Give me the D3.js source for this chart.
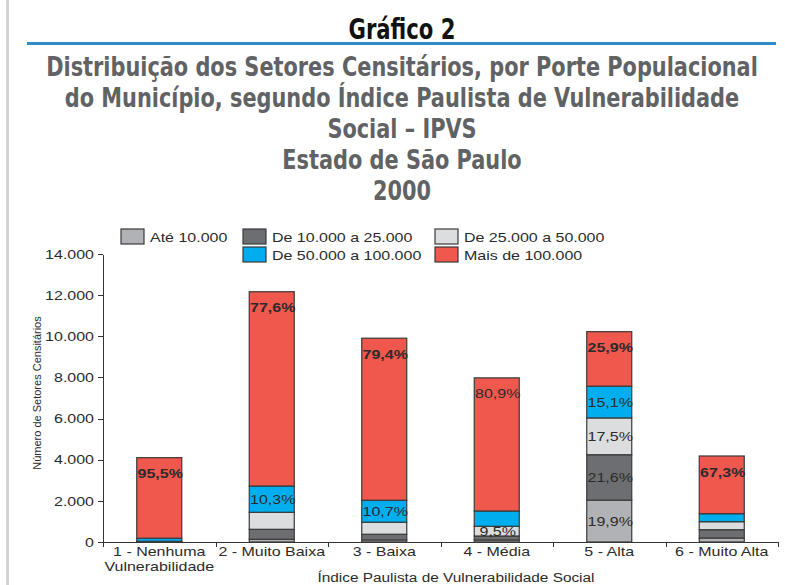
<!DOCTYPE html>
<meta charset="utf-8">
<style>
body { margin: 0; background: #fff; }
.chart text { font-family: "Liberation Sans", Arial, sans-serif; fill: #2b2b2b; }
.chart text.title { font-family: "DejaVu Sans Condensed", "DejaVu Sans", sans-serif; font-stretch: condensed; font-weight: bold; text-anchor: middle; }
.axis path, .axis line { fill: none; stroke: #333; stroke-width: 1; shape-rendering: crispEdges; }
</style>
<body>
<script src="https://cdnjs.cloudflare.com/ajax/libs/d3/7.8.5/d3.min.js"></script>
<script>

// categories (IPVS groups) and their tick labels
var categories = ["1 - Nenhuma Vulnerabilidade", "2 - Muito Baixa", "3 - Baixa", "4 - Média", "5 - Alta", "6 - Muito Alta"];
var tickLabels = [["1 - Nenhuma", "Vulnerabilidade"], ["2 - Muito Baixa"], ["3 - Baixa"], ["4 - Média"], ["5 - Alta"], ["6 - Muito Alta"]];

// series: number of census sectors per municipality size
var seriesNames = ["Até 10.000", "De 10.000 a 25.000", "De 25.000 a 50.000", "De 50.000 a 100.000", "Mais de 100.000"];
var ate10     = [5, 130, 100, 97, 2035, 194];
var de10a25   = [10, 487, 277, 195, 2208, 404];
var de25a50   = [20, 827, 584, 471, 1789, 389];
var de50a100  = [150, 1278, 1069, 744, 1544, 389];
var mais100   = [3915, 9444, 7876, 6472, 2648, 2805];
var seriesValues = [ate10, de10a25, de25a50, de50a100, mais100];

// percentage labels: [category index, series index, text, bold]
var pctLabels = [
    [0, 4, "95,5%", true],
    [1, 4, "77,6%", true], [1, 3, "10,3%", false],
    [2, 4, "79,4%", true], [2, 3, "10,7%", false],
    [3, 4, "80,9%", false], [3, 2, "9,5%", false],
    [4, 4, "25,9%", true], [4, 3, "15,1%", false], [4, 2, "17,5%", false], [4, 1, "21,6%", false], [4, 0, "19,9%", false],
    [5, 4, "67,3%", true]
];

var yTicks = [0, 2000, 4000, 6000, 8000, 10000, 12000, 14000];

var titleLines = ["Distribuição dos Setores Censitários, por Porte Populacional",
                  "do Município, segundo Índice Paulista de Vulnerabilidade",
                  "Social – IPVS", "Estado de São Paulo", "2000"];

var colors = ["#b1b2b5", "#6d6e71", "#dcdddf", "#00aeef", "#f0574d"];

var SX = 1.23; // horizontal stretch of the chart lettering

var W = 785, H = 585;
var svg = d3.select("body").append("svg")
    .attr("width", W).attr("height", H)
    .attr("class", "chart");

// page border on the left
svg.append("rect").attr("x", 6).attr("y", 0).attr("width", 3).attr("height", H).attr("fill", "#d2d2d2");

// heading
var head = svg.append("text").attr("class", "title")
    .style("font-size", "28px").style("fill", "#111")
    .text("Gráfico 2");
var hw = head.node().getComputedTextLength();
head.attr("transform", "translate(402,39) scale(" + (107 / hw) + ",1)");

svg.append("rect").attr("x", 27).attr("y", 42).attr("width", 749).attr("height", 3).attr("fill", "#2f8cc7");

var tl = svg.selectAll(".sub").data(titleLines).enter().append("text")
    .attr("class", "title sub")
    .style("font-size", "27px").style("fill", "#616264")
    .text(function(d) { return d; });
var k = 712 / tl.node().getComputedTextLength();
tl.attr("transform", function(d, i) { return "translate(402," + (76 + i * 31) + ") scale(" + k + ",1)"; });

// scales
var margin = {left: 103, right: 778, top: 254, bottom: 542};
var x = d3.scaleBand().domain(categories).range([margin.left, margin.right]).paddingInner(0.6).paddingOuter(0.3);
var xb = d3.scaleLinear().domain([0, categories.length]).range([margin.left, margin.right]);
var y = d3.scaleLinear().domain([0, 14000]).range([margin.bottom, margin.top]);

var locale = d3.formatLocale({decimal: ",", thousands: ".", grouping: [3], currency: ["", ""]});
var fmt = locale.format(",.0f");

// stacked data
var rows = categories.map(function(c, i) {
    var r = {cat: c};
    seriesNames.forEach(function(s, j) { r[s] = seriesValues[j][i]; });
    return r;
});
var stack = d3.stack().keys(seriesNames)(rows);

svg.append("g").selectAll("g").data(stack).enter().append("g")
    .attr("fill", function(d, i) { return colors[i]; })
    .selectAll("rect").data(function(d) { return d; }).enter().append("rect")
        .attr("x", function(d) { return x(d.data.cat); })
        .attr("y", function(d) { return y(d[1]); })
        .attr("width", x.bandwidth())
        .attr("height", function(d) { return y(d[0]) - y(d[1]); })
        .attr("stroke", "#3a3a3a")
        .attr("stroke-width", 1.2);

// percentage labels
svg.append("g").selectAll("text").data(pctLabels).enter().append("text")
    .attr("text-anchor", "middle")
    .attr("dy", "0.35em")
    .style("font-size", "13px")
    .style("font-weight", function(d) { return d[3] ? "bold" : "normal"; })
    .attr("transform", function(d) {
        var seg = stack[d[1]][d[0]];
        var cx = x(categories[d[0]]) + x.bandwidth() / 2 + 1;
        var cy = d[1] === 4 ? y(seg[1]) + 16 : (y(seg[0]) + y(seg[1])) / 2;
        return "translate(" + cx + "," + cy + ") scale(" + SX + ",1)";
    })
    .text(function(d) { return d[2]; });

// Y axis
var yAxis = svg.append("g").attr("class", "axis")
    .attr("transform", "translate(" + margin.left + ",0)")
    .call(d3.axisLeft(y).tickValues(yTicks).tickFormat(fmt).tickSize(5).tickSizeOuter(0));
yAxis.selectAll("text")
    .attr("x", null)
    .style("font-size", "13px")
    .attr("transform", "translate(-9,0) scale(" + SX + ",1)");

// X axis: boundary ticks
svg.append("g").attr("class", "axis")
    .attr("transform", "translate(0," + margin.bottom + ")")
    .call(d3.axisBottom(xb).tickValues(d3.range(categories.length + 1)).tickFormat("").tickSize(5).tickSizeOuter(0));

// X axis: category labels
var xAxis = svg.append("g").attr("class", "axis")
    .attr("transform", "translate(0," + margin.bottom + ")")
    .call(d3.axisBottom(x).tickSize(0));
xAxis.select(".domain").remove();
xAxis.selectAll("text").each(function(d, i) {
    var t = d3.select(this).text(null).attr("y", null).attr("dy", null)
        .style("font-size", "13px")
        .attr("transform", "translate(0,14) scale(" + SX + ",1)");
    tickLabels[i].forEach(function(line, j) {
        t.append("tspan").attr("x", 0).attr("y", j * 15).text(line);
    });
});

// axis titles
svg.append("text")
    .attr("text-anchor", "middle")
    .style("font-size", "12.5px")
    .attr("transform", "translate(456,582) scale(" + SX + ",1)")
    .text("Índice Paulista de Vulnerabilidade Social");

svg.append("text")
    .attr("text-anchor", "middle")
    .style("font-size", "11px")
    .attr("transform", "translate(41,393) rotate(-90)")
    .text("Número de Setores Censitários");

// legend
var legendCols = [121, 243, 435];
var legend = svg.append("g").selectAll("g").data(seriesNames).enter().append("g")
    .attr("transform", function(d, i) {
        var col = i < 3 ? i : i - 2, row = i < 3 ? 0 : 1;
        return "translate(" + legendCols[col] + "," + (229 + row * 18) + ")";
    });
legend.append("rect")
    .attr("width", 23).attr("height", 15)
    .attr("fill", function(d, i) { return colors[i]; })
    .attr("stroke", "#3a3a3a").attr("stroke-width", 1.2);
legend.append("text")
    .style("font-size", "13px")
    .attr("transform", "translate(29,12.5) scale(" + SX + ",1)")
    .text(function(d) { return d; });

</script>
</body>
